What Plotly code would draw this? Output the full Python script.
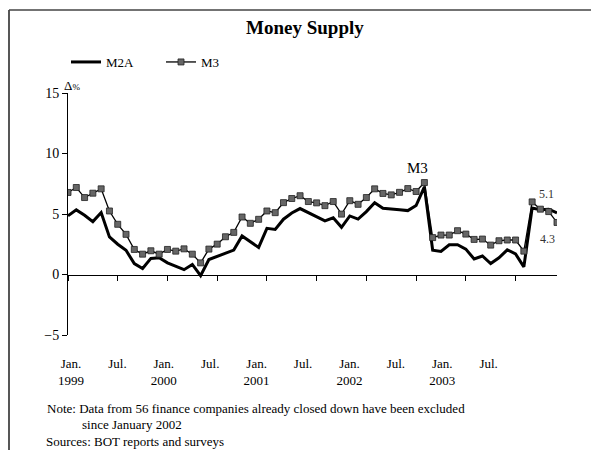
import plotly.graph_objects as go

# Months Jan 1999 .. Dec 2003 (index 0..59)
months = list(range(60))

m2a = [4.85, 5.34, 4.90, 4.37, 5.12, 3.10, 2.50, 2.00, 0.90, 0.50, 1.33, 1.38,
       0.96, 0.65, 0.40, 0.83, -0.10, 1.24, 1.52, 1.74, 2.02, 3.18, 2.71, 2.24,
       3.82, 3.73, 4.57, 5.08, 5.45, 5.10, 4.80, 4.43, 4.68, 3.90, 4.84, 4.58,
       5.20, 5.94, 5.48, 5.39, 5.36, 5.28, 5.70, 7.25, 2.00, 1.90, 2.45, 2.46,
       2.10, 1.28, 1.53, 0.91, 1.38, 2.04, 1.70, 0.63, 5.50, 5.35, 5.40, 5.10]

m3 = [6.78, 7.19, 6.36, 6.72, 7.08, 5.25, 4.15, 3.32, 2.07, 1.68, 1.96, 1.68,
      2.07, 1.93, 2.12, 1.68, 0.96, 2.10, 2.51, 3.12, 3.48, 4.75, 4.23, 4.56,
      5.25, 5.11, 5.94, 6.28, 6.51, 6.03, 5.92, 5.69, 6.03, 4.99, 6.10, 5.80,
      6.36, 7.08, 6.70, 6.58, 6.79, 7.10, 6.86, 7.60, 3.05, 3.26, 3.26, 3.62,
      3.34, 2.90, 2.93, 2.43, 2.79, 2.85, 2.85, 1.93, 6.00, 5.40, 5.20, 4.30]

tick_months = [0, 6, 12, 18, 24, 30, 36, 42, 48, 54]
tick_labels = ["Jan.<br>1999", "Jul.", "Jan.<br>2000", "Jul.", "Jan.<br>2001", "Jul.",
               "Jan.<br>2002", "Jul.", "Jan.<br>2003", "Jul."]
y_ticks = [-5, 0, 5, 10, 15]

FONT = "Liberation Serif, Times New Roman, serif"
W, H = 591, 450

fig = go.Figure()

fig.add_trace(go.Scatter(
    x=months, y=m2a, name="M2A", mode="lines",
    line=dict(color="black", width=3),
    xaxis="x2", yaxis="y"))

fig.add_trace(go.Scatter(
    x=months, y=m3, name="M3", mode="lines+markers",
    line=dict(color="black", width=1.3),
    marker=dict(symbol="square", size=6, color="#666666",
                line=dict(color="#222222", width=0.8)),
    xaxis="x2", yaxis="y"))

# helper trace so the label axis is rendered
fig.add_trace(go.Scatter(x=[tick_months[0]], y=[None], xaxis="x", yaxis="y",
                         showlegend=False, hoverinfo="skip", mode="lines"))

fig.update_layout(
    width=W, height=H,
    margin=dict(l=68, r=34, t=93, b=115, autoexpand=False),
    paper_bgcolor="white", plot_bgcolor="white",
    font=dict(family=FONT, size=13, color="black"),
    showlegend=True,
    legend=dict(orientation="h", xref="container", yref="container",
                x=66 / W, xanchor="left", y=1 - 62 / H, yanchor="middle",
                font=dict(family=FONT, size=13, color="black"),
                bgcolor="rgba(0,0,0,0)", entrywidth=50, entrywidthmode="pixels",
                tracegroupgap=0),
    xaxis=dict(range=[-0.39, 62.84], tickmode="array", tickvals=tick_months,
               ticktext=tick_labels, showline=False, showgrid=False, zeroline=False,
               ticks="outside", ticklen=16, tickcolor="rgba(0,0,0,0)",
               tickfont=dict(family=FONT, size=13, color="black")),
    xaxis2=dict(range=[0, 59], overlaying="x", anchor="free", position=0.25,
                tickmode="array", tickvals=tick_months, showticklabels=False,
                showline=True, linecolor="black", linewidth=1,
                ticks="outside", ticklen=5, tickcolor="black", tickwidth=1,
                showgrid=False, zeroline=False),
    yaxis=dict(range=[-5, 15], tickmode="array", tickvals=y_ticks,
               showline=True, linecolor="black", linewidth=1,
               ticks="outside", ticklen=5, tickcolor="black",
               showgrid=False, zeroline=False,
               tickfont=dict(family=FONT, size=14, color="black")),
)

annotations = [
    dict(text="<b>Money Supply</b>", xref="paper", yref="paper",
         x=(305 - 68) / 489, y=(335 - 27) / 242, xanchor="center", yanchor="middle",
         showarrow=False, font=dict(family=FONT, size=19, color="black")),
    dict(text="Δ<span style='font-size:9px'>%</span>", xref="paper", yref="paper",
         x=(62 - 68) / 489, y=(335 - 85) / 242, xanchor="left", yanchor="middle",
         showarrow=False, font=dict(family=FONT, size=13, color="black")),
    dict(text="M3", xref="x2", yref="y", x=42.2, y=8.8, showarrow=False,
         font=dict(family=FONT, size=15, color="black")),
    dict(text="5.1", xref="x2", yref="y", x=57.7, y=6.66, showarrow=False,
         font=dict(family=FONT, size=12, color="#333333")),
    dict(text="4.3", xref="x2", yref="y", x=57.8, y=2.93, showarrow=False,
         font=dict(family=FONT, size=12, color="#333333")),
    dict(text="Note: Data from 56 finance companies already closed down have been excluded",
         xref="paper", yref="paper", x=(45 - 68) / 489, y=(335 - 408) / 242,
         xanchor="left", yanchor="middle", showarrow=False,
         font=dict(family=FONT, size=13, color="black")),
    dict(text="since January 2002",
         xref="paper", yref="paper", x=(80 - 68) / 489, y=(335 - 425) / 242,
         xanchor="left", yanchor="middle", showarrow=False,
         font=dict(family=FONT, size=13, color="black")),
    dict(text="Sources: BOT reports and surveys",
         xref="paper", yref="paper", x=(44 - 68) / 489, y=(335 - 441) / 242,
         xanchor="left", yanchor="middle", showarrow=False,
         font=dict(family=FONT, size=13, color="black")),
]
fig.update_layout(annotations=annotations)

# outer frame: only the left and top edges are visible in the reference
fx0 = (9 - 68) / 489
fy1 = (335 - 10) / 242
fig.add_shape(type="line", xref="paper", yref="paper",
              x0=fx0, x1=fx0, y0=-0.6, y1=fy1,
              line=dict(color="#444444", width=1.8), layer="below")
fig.add_shape(type="line", xref="paper", yref="paper",
              x0=fx0, x1=1.2, y0=fy1, y1=fy1,
              line=dict(color="#444444", width=1.5), layer="below")

fig.write_html(
    "out.html",
    config={"displayModeBar": False},
    post_script="document.body.style.margin='0';document.body.style.overflow='hidden';",
)
